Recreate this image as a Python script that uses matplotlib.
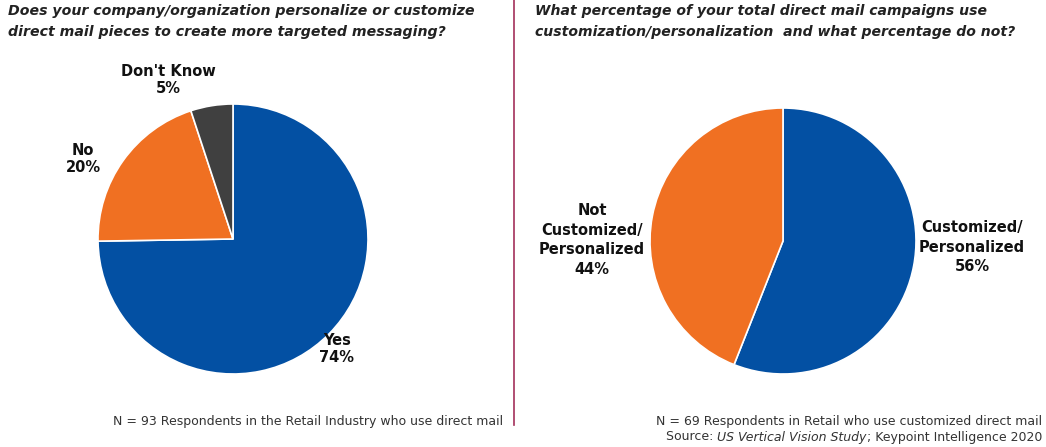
import matplotlib
matplotlib.use("Agg")
import matplotlib.pyplot as plt
from matplotlib.lines import Line2D

# Survey results
q1_labels = ["Yes", "No", "Don't Know"]
q1_values = [74, 20, 5]
q2_labels = ["Customized/\nPersonalized", "Not\nCustomized/\nPersonalized"]
q2_values = [56, 44]

q1_colors = ["#0350A3", "#F07022", "#404040"]
q2_colors = ["#0350A3", "#F07022"]

FONT = "DejaVu Sans"
W, H = 1046, 447
fig = plt.figure(figsize=(W / 100, H / 100), dpi=100)
fig.patch.set_facecolor("white")


def px_axes(cx, cy, r):
    return fig.add_axes([(cx - r) / W, (H - cy - r) / H, 2 * r / W, 2 * r / H])


def draw_pie(ax, values, colors):
    ax.pie(values, colors=colors, startangle=90, counterclock=False,
           wedgeprops=dict(edgecolor="white", linewidth=1.2))
    ax.set_xlim(-1, 1)
    ax.set_ylim(-1, 1)
    ax.set_aspect("equal")
    ax.axis("off")


ax1 = px_axes(233, 239, 135)
draw_pie(ax1, q1_values, q1_colors)
ax2 = px_axes(783, 241, 133)
draw_pie(ax2, q2_values, q2_colors)


def ftext(x, y, s, **kw):
    kw.setdefault("family", FONT)
    return fig.text(x / W, 1 - y / H, s, **kw)


# Titles
title_kw = dict(fontweight="bold", style="italic", color="#222222",
                ha="left", va="top", linespacing=1.6)
ftext(8, 4, "Does your company/organization personalize or customize\n"
            "direct mail pieces to create more targeted messaging?",
      fontsize=10.2, **title_kw)
ftext(535, 4, "What percentage of your total direct mail campaigns use\n"
              "customization/personalization  and what percentage do not?",
      fontsize=10.1, **title_kw)

# Slice labels
lab_kw = dict(fontsize=10.5, fontweight="bold", color="#111111",
              ha="center", va="center")
ftext(337, 349, f"{q1_labels[0]}\n{q1_values[0]}%", linespacing=1.2, **lab_kw)
ftext(83, 159, f"{q1_labels[1]}\n{q1_values[1]}%", linespacing=1.2, **lab_kw)
ftext(168, 80, f"{q1_labels[2]}\n{q1_values[2]}%", linespacing=1.2, **lab_kw)
ftext(972, 247, f"{q2_labels[0]}\n{q2_values[0]}%", linespacing=1.4, **lab_kw)
ftext(592, 240, f"{q2_labels[1]}\n{q2_values[1]}%", linespacing=1.4, **lab_kw)

# Divider
fig.add_artist(Line2D([514 / W, 514 / W], [1 - 0 / H, 1 - 425 / H],
                      color="#A3305A", linewidth=1.2))

# Footnotes
note_kw = dict(fontsize=9, color="#333333", va="center")
ftext(503, 421, "N = 93 Respondents in the Retail Industry who use direct mail",
      ha="right", **note_kw)
ftext(1042, 421, "N = 69 Respondents in Retail who use customized direct mail",
      ha="right", **note_kw)

# Source line with italic study name, assembled right to left
renderer = fig.canvas.get_renderer()
x_right = 1042
parts = [("Source: ", "normal"), ("US Vertical Vision Study", "italic"),
         ("; Keypoint Intelligence 2020", "normal")]
for s, st in reversed(parts):
    t = ftext(x_right, 437, s, ha="right", style=st, **note_kw)
    bb = t.get_window_extent(renderer)
    x_right -= bb.width

fig.savefig("out.png", dpi=100, facecolor="white")
